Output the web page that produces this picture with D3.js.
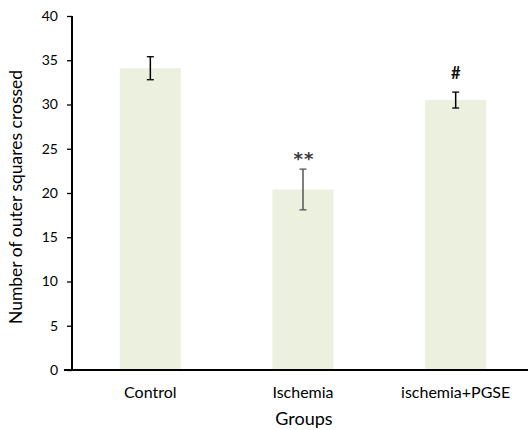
<!DOCTYPE html>
<html><head><meta charset="utf-8">
<script src="https://cdn.jsdelivr.net/npm/d3@7"></script>
<style>body{margin:0;background:#fff}svg{display:block}</style>
</head><body>
<script>
const categories = ["Control", "Ischemia", "ischemia+PGSE"];
const values = [34.1, 20.4, 30.5];
const errors = [1.3, 2.3, 0.9];
const marks = ["", "**", "#"];
const yTicks = [0, 5, 10, 15, 20, 25, 30, 35, 40];
const errColors = ["#000", "#555", "#000"];

const W = 528, H = 430;
const svg = d3.select("body").append("svg").attr("width", W).attr("height", H);
const font = "Lato, 'Open Sans', sans-serif";

const x = d3.scaleBand().domain(categories).range([74, 532]).paddingInner(0.6).paddingOuter(0.3);
const y = d3.scaleLinear().domain([0, 40]).range([370, 16]);

svg.selectAll("rect.bar").data(categories).enter().append("rect")
  .attr("class", "bar")
  .attr("x", d => x(d))
  .attr("width", x.bandwidth())
  .attr("y", (d, i) => y(values[i]))
  .attr("height", (d, i) => y(0) - y(values[i]))
  .attr("fill", "#ebf1de");

const eg = svg.append("g");
categories.forEach((c, i) => {
  const cx = x(c) + x.bandwidth() / 2;
  const t = y(values[i] + errors[i]), b = y(values[i] - errors[i]);
  const col = errColors[i];
  eg.append("line").attr("x1", cx).attr("x2", cx).attr("y1", t).attr("y2", b).attr("stroke", col).attr("stroke-width", 1.5);
  eg.append("line").attr("x1", cx - 3.5).attr("x2", cx + 3.5).attr("y1", t).attr("y2", t).attr("stroke", col).attr("stroke-width", 1.3);
  eg.append("line").attr("x1", cx - 3.5).attr("x2", cx + 3.5).attr("y1", b).attr("y2", b).attr("stroke", col).attr("stroke-width", 1.3);
  if (marks[i] === "**") {
    svg.append("text").attr("x", cx + 1).attr("y", t - 4)
      .attr("text-anchor", "middle").attr("font-family", "'DejaVu Sans', sans-serif")
      .attr("font-size", 18).attr("font-weight", "bold").attr("letter-spacing", 1)
      .attr("fill", "#3a3a3a").text(marks[i]);
  } else if (marks[i]) {
    svg.append("text").attr("x", cx).attr("y", t - 13)
      .attr("text-anchor", "middle").attr("font-family", font)
      .attr("font-size", 16.5).attr("font-weight", "bold")
      .attr("fill", "#111").text(marks[i]);
  }
});

const yAxis = svg.append("g").attr("transform", "translate(72,0)")
  .call(d3.axisLeft(y).tickValues(yTicks).tickSize(5).tickPadding(9).tickFormat(d3.format("d")));
yAxis.select(".domain").attr("stroke", "#000").attr("stroke-width", 2).attr("d", "M0,16V370");
yAxis.selectAll(".tick line").attr("stroke", "#000").attr("stroke-width", 1.3);
yAxis.selectAll(".tick text").attr("font-family", font).attr("font-size", 14).attr("fill", "#000");

const xAxis = svg.append("g").attr("transform", "translate(0,370)")
  .call(d3.axisBottom(x).tickSize(0).tickPadding(0));
xAxis.select(".domain").attr("stroke", "#000").attr("stroke-width", 2).attr("d", "M64,0H528");
xAxis.selectAll(".tick text").attr("font-family", font).attr("font-size", 16).attr("fill", "#000")
  .attr("dy", null).attr("y", 28);

svg.append("text").attr("x", (x(categories[1]) + x.bandwidth() / 2) + 1).attr("y", 425)
  .attr("text-anchor", "middle").attr("font-family", font).attr("font-size", 18).attr("fill", "#000").text("Groups");

svg.append("text").attr("transform", "translate(22,197) rotate(-90)")
  .attr("text-anchor", "middle").attr("font-family", font).attr("font-size", 17.5).attr("fill", "#000")
  .text("Number of outer squares crossed");
</script>
</body></html>
